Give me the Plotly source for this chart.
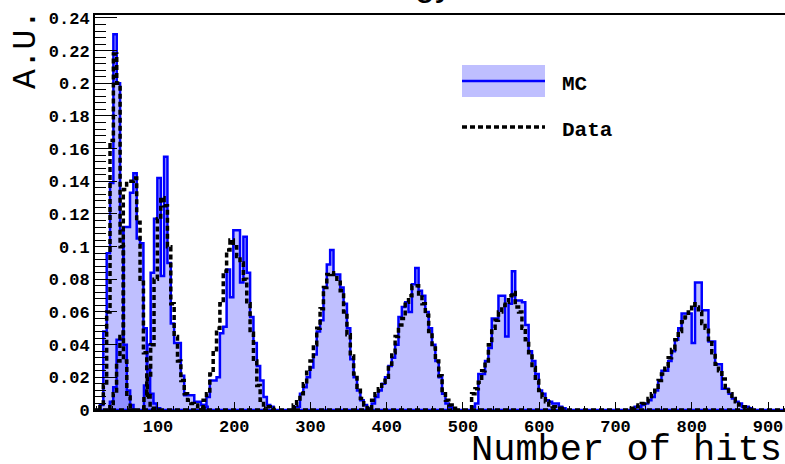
import plotly.graph_objects as go

# ---------------- data ----------------
bin_width = 4.4
x_range = [17.4, 922.3]
y_range = [0, 0.2418]

peak_starts = [23.9, 36.9, 81.6, 159.2, 277.4, 380.2, 511.3, 720.7]

mc_1 = [0.003, 0.048, 0.096, 0.139, 0.230, 0.200, 0.110, 0.040, 0.012, 0.003]
mc_2 = [0.005, 0.014, 0.043, 0.043, 0.112, 0.112, 0.133, 0.145, 0.105, 0.102, 0.050, 0.025, 0.010, 0.004, 0.001]
mc_3 = [0.015, 0.040, 0.084, 0.117, 0.142, 0.082, 0.155, 0.090, 0.053, 0.041, 0.041, 0.021, 0.009, 0.009,
        0.009, 0.005, 0.005, 0.003, 0.002]
mc_4 = [0.003, 0.008, 0.018, 0.018, 0.020, 0.047, 0.051, 0.086, 0.069, 0.110, 0.110, 0.078, 0.106, 0.084,
        0.057, 0.041, 0.027, 0.018, 0.008, 0.003, 0.002]
mc_5 = [0.002, 0.002, 0.010, 0.014, 0.020, 0.026, 0.034, 0.048, 0.055, 0.075, 0.089, 0.098, 0.083, 0.083,
        0.075, 0.065, 0.050, 0.031, 0.020, 0.012, 0.006, 0.003, 0.001]
mc_6 = [0.004, 0.008, 0.012, 0.016, 0.020, 0.027, 0.032, 0.040, 0.057, 0.063, 0.066, 0.060, 0.077, 0.087,
        0.073, 0.070, 0.060, 0.050, 0.040, 0.030, 0.020, 0.010, 0.004, 0.002, 0.001]
mc_7 = [0.002, 0.004, 0.022, 0.022, 0.030, 0.038, 0.056, 0.056, 0.070, 0.070, 0.045, 0.065, 0.085, 0.067,
        0.067, 0.066, 0.052, 0.036, 0.030, 0.022, 0.012, 0.010, 0.006, 0.005, 0.004, 0.004, 0.002, 0.001]
mc_8 = [0.001, 0.002, 0.002, 0.003, 0.004, 0.006, 0.008, 0.012, 0.018, 0.024, 0.024, 0.030, 0.036, 0.043,
        0.050, 0.059, 0.059, 0.059, 0.041, 0.078, 0.078, 0.061, 0.061, 0.042, 0.042, 0.028, 0.028, 0.013,
        0.013, 0.010, 0.007, 0.005, 0.004, 0.002, 0.002, 0.001]

data_1 = [0.002, 0.015, 0.060, 0.165, 0.218, 0.200, 0.100, 0.030, 0.008, 0.002]
data_2 = [0.002, 0.010, 0.030, 0.045, 0.135, 0.140, 0.140, 0.142, 0.115, 0.080, 0.035, 0.010, 0.003, 0.001, 0.000]
data_3 = [0.008, 0.020, 0.040, 0.080, 0.117, 0.130, 0.125, 0.100, 0.065, 0.045, 0.030, 0.018, 0.010, 0.006,
          0.004, 0.003, 0.002, 0.001, 0.001]
data_4 = [0.006, 0.010, 0.022, 0.035, 0.050, 0.065, 0.085, 0.098, 0.104, 0.100, 0.094, 0.090, 0.080, 0.065,
          0.047, 0.030, 0.015, 0.006, 0.003, 0.002, 0.001]
data_5 = [0.003, 0.005, 0.010, 0.016, 0.025, 0.030, 0.040, 0.050, 0.062, 0.075, 0.083, 0.084, 0.083, 0.080,
          0.073, 0.060, 0.046, 0.033, 0.022, 0.014, 0.007, 0.003, 0.001]
data_6 = [0.006, 0.010, 0.013, 0.017, 0.020, 0.028, 0.035, 0.045, 0.052, 0.056, 0.066, 0.070, 0.076, 0.076,
          0.071, 0.065, 0.058, 0.048, 0.038, 0.030, 0.021, 0.012, 0.006, 0.003, 0.001]
data_7 = [0.010, 0.013, 0.017, 0.024, 0.030, 0.040, 0.050, 0.055, 0.060, 0.064, 0.066, 0.070, 0.072, 0.063,
          0.060, 0.050, 0.043, 0.035, 0.026, 0.018, 0.012, 0.008, 0.005, 0.003, 0.002, 0.001, 0.001, 0.000]
data_8 = [0.001, 0.002, 0.003, 0.004, 0.005, 0.007, 0.010, 0.014, 0.018, 0.022, 0.027, 0.032, 0.037, 0.043,
          0.048, 0.054, 0.057, 0.060, 0.065, 0.063, 0.060, 0.053, 0.050, 0.043, 0.035, 0.028, 0.024, 0.019,
          0.014, 0.010, 0.007, 0.005, 0.003, 0.002, 0.001, 0.000]

mc_series = [mc_1, mc_2, mc_3, mc_4, mc_5, mc_6, mc_7, mc_8]
data_series = [data_1, data_2, data_3, data_4, data_5, data_6, data_7, data_8]

x_title = "Number of hits"
y_title = "A.U."
plot_title = "Energy"
legend_labels = ["MC", "Data"]

# ---------------- styles ----------------
MC_LINE = "rgb(0,0,255)"
MC_FILL = "rgba(0,0,255,0.25)"
DATA_DASH = "5px,3px"
MONO = "Liberation Mono, Courier New, monospace"


def step_xy(start, vals):
    edges = [start + bin_width * i for i in range(len(vals) + 1)]
    xs = [edges[0]] + edges[:-1] + [edges[-1]]
    ys = [0.0] + list(vals) + [0.0]
    return xs, ys


fig = go.Figure()

# MC histograms (filled)
for start, vals in zip(peak_starts, mc_series):
    xs, ys = step_xy(start, vals)
    fig.add_trace(go.Scatter(x=xs, y=ys, mode="lines", line=dict(color=MC_LINE, width=2.5, shape="hv"),
                             fill="tozeroy", fillcolor=MC_FILL, showlegend=False, hoverinfo="skip"))

# zero baselines of the full-range histograms
fig.add_trace(go.Scatter(x=x_range, y=[0, 0], mode="lines", line=dict(color=MC_LINE, width=2.5),
                         showlegend=False, hoverinfo="skip"))
fig.add_trace(go.Scatter(x=x_range, y=[0, 0], mode="lines",
                         line=dict(color="black", width=3.5, dash=DATA_DASH),
                         showlegend=False, hoverinfo="skip"))

# Data histograms (dotted)
for start, vals in zip(peak_starts, data_series):
    xs, ys = step_xy(start, vals)
    fig.add_trace(go.Scatter(x=xs, y=ys, mode="lines",
                             line=dict(color="black", width=3.5, dash=DATA_DASH, shape="hv"),
                             showlegend=False, hoverinfo="skip"))

W, H = 785, 464
ml, mr, mt, mb = 95, 0, 15, 54
pw, ph = W - ml - mr, H - mt - mb


def px(xp):
    return (xp - ml) / pw


def py(yp):
    return (H - mb - yp) / ph


tickfont = dict(family=MONO, size=17, color="black", weight="bold")

fig.update_layout(
    width=W, height=H,
    margin=dict(l=ml, r=mr, t=mt, b=mb, pad=0),
    paper_bgcolor="white", plot_bgcolor="white",
    showlegend=False,
    xaxis=dict(range=x_range, tick0=0, dtick=100, ticks="inside", ticklen=8, tickwidth=1.2,
               tickcolor="black", showline=True, linecolor="black", linewidth=2, mirror=True,
               showgrid=False, zeroline=False, tickfont=tickfont,
               minor=dict(tick0=0, dtick=20, ticks="inside", ticklen=4, tickwidth=1, tickcolor="black",
                          showgrid=False)),
    yaxis=dict(range=y_range, tick0=0, dtick=0.02, ticks="inside", ticklen=22, tickwidth=1.2,
               tickcolor="black", showline=True, linecolor="black", linewidth=2, mirror=False,
               showgrid=False, zeroline=False, tickfont=tickfont,
               minor=dict(tick0=0, dtick=0.004, ticks="inside", ticklen=11, tickwidth=1, tickcolor="black",
                          showgrid=False)),
)

# legend (drawn by hand, ROOT style)
fig.add_shape(type="rect", xref="paper", yref="paper", x0=px(462), x1=px(545), y0=py(97), y1=py(65),
              fillcolor=MC_FILL, line=dict(width=0), layer="above")
fig.add_shape(type="line", xref="paper", yref="paper", x0=px(462), x1=px(545), y0=py(81), y1=py(81),
              line=dict(color=MC_LINE, width=2.5), layer="above")
fig.add_shape(type="line", xref="paper", yref="paper", x0=px(462), x1=px(545), y0=py(127), y1=py(127),
              line=dict(color="black", width=3.5, dash=DATA_DASH), layer="above")
fig.add_annotation(xref="paper", yref="paper", x=px(560), y=py(84), text=legend_labels[0], showarrow=False,
                   xanchor="left", yanchor="middle", font=dict(family=MONO, size=21, color="black", weight="bold"))
fig.add_annotation(xref="paper", yref="paper", x=px(560), y=py(130), text=legend_labels[1], showarrow=False,
                   xanchor="left", yanchor="middle", font=dict(family=MONO, size=21, color="black", weight="bold"))

# axis titles
fig.add_annotation(xref="paper", yref="paper", x=px(784), y=py(450), text=x_title, showarrow=False,
                   xanchor="right", yanchor="middle", font=dict(family=MONO, size=37, color="black"))
fig.add_annotation(xref="paper", yref="paper", x=px(26), y=py(50), text=y_title, showarrow=False,
                   textangle=-90, xanchor="center", yanchor="middle",
                   font=dict(family=MONO, size=33, color="black"))
# title (mostly cut off by the top of the canvas, as in the reference)
fig.add_annotation(xref="paper", yref="paper", x=px(455), y=py(5), text=plot_title, showarrow=False,
                   xanchor="right", yanchor="bottom",
                   font=dict(family="Liberation Sans, Arial, sans-serif", size=36, color="black"))

fig.write_html("out.html")
